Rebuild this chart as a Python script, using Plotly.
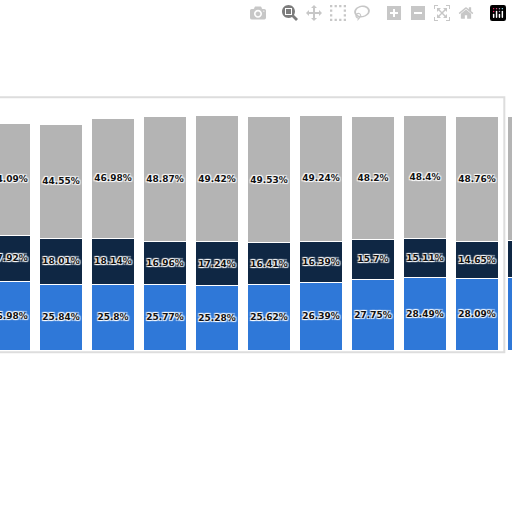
import plotly.graph_objects as go

xs = list(range(11))
blue = [26.98, 25.84, 25.8, 25.77, 25.28, 25.62, 26.39, 27.75, 28.49, 28.09, 28.3]
navy = [17.92, 18.01, 18.14, 16.96, 17.24, 16.41, 16.39, 15.7, 15.11, 14.65, 14.5]
grey = [44.09, 44.55, 46.98, 48.87, 49.42, 49.53, 49.24, 48.2, 48.4, 48.76, 48.9]

def lab(v):
    return [f"{x:g}%" for x in v]

fig = go.Figure()
fnt = dict(family="DejaVu Sans", size=9, color="#111", weight="bold",
           shadow="1px 1px 1px white, -1px -1px 1px white, 1px -1px 1px white, -1px 1px 1px white")
for vals, col in [(blue, "#2f78d8"), (navy, "#0f2744"), (grey, "#b4b4b4")]:
    fig.add_bar(x=xs, y=vals, marker=dict(color=col, line=dict(color="white", width=1)),
                width=0.81, text=lab(vals), textposition="inside", insidetextanchor="middle",
                textangle=0, textfont=fnt, constraintext="none")
fig.add_shape(type="rect", xref="paper", yref="y", x0=-0.01, x1=0.985, y0=-0.8, y1=99.2,
              fillcolor="white", line=dict(color="#dddddd", width=2), layer="below")
fig.update_layout(barmode="stack", width=512, height=512, margin=dict(l=0, r=0, t=0, b=0),
                  paper_bgcolor="white", plot_bgcolor="white", showlegend=False,
                  uniformtext=dict(minsize=9, mode="show"),
                  xaxis=dict(range=[-0.173, 9.673], visible=False),
                  yaxis=dict(range=[-63.5, 137.3], visible=False))
fig.write_html("out.html", post_script="document.body.style.margin='0';")
